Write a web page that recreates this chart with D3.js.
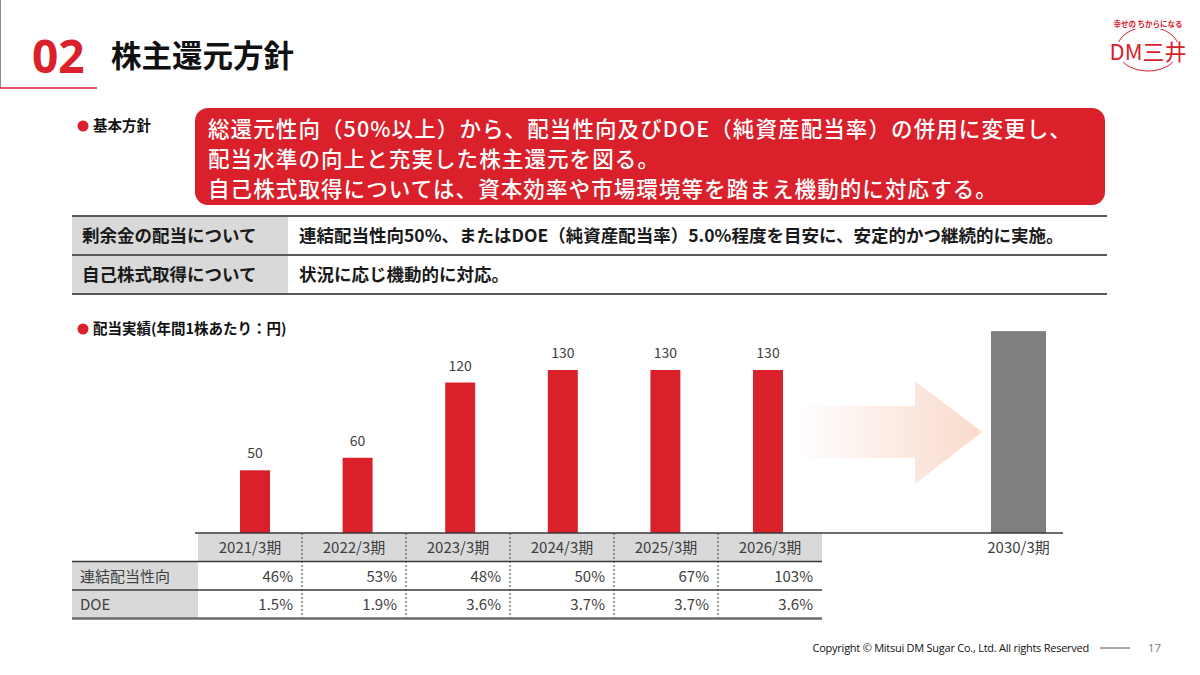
<!DOCTYPE html>
<html>
<head>
<meta charset="utf-8">
<script src="https://cdn.jsdelivr.net/npm/d3@7"></script>
<style>
  body { margin: 0; background: #fff; }
  svg { display: block; font-family: 'Noto Sans CJK JP', 'Noto Sans', sans-serif; }
</style>
</head>
<body>
<div id="slide"></div>
<script>
// data
const periods = ['2021/3期', '2022/3期', '2023/3期', '2024/3期', '2025/3期', '2026/3期']
const dividends = [50, 60, 120, 130, 130, 130]
const payoutRatio = [46, 53, 48, 50, 67, 103]
const doeValues = [1.5, 1.9, 3.6, 3.7, 3.7, 3.6]
const targetPeriod = '2030/3期'
const targetValue = 161 // unlabeled goal bar, height estimated
const rowLabels = ['連結配当性向', 'DOE']

const policyLines = [
  '総還元性向（50%以上）から、配当性向及びDOE（純資産配当率）の併用に変更し、',
  '配当水準の向上と充実した株主還元を図る。',
  '自己株式取得については、資本効率や市場環境等を踏まえ機動的に対応する。'
]
const policyRows = [
  ['剰余金の配当について', '連結配当性向50%、またはDOE（純資産配当率）5.0%程度を目安に、安定的かつ継続的に実施。'],
  ['自己株式取得について', '状況に応じ機動的に対応。']
]

const red = '#d9202b'
const dark = '#404040'
const cellGray = '#d9d9d9'

const width = 1200
const height = 675

const svg = d3.select('#slide')
  .append('svg')
  .attr('width', width)
  .attr('height', height)

const defs = svg.append('defs')
const grad = defs.append('linearGradient')
  .attr('id', 'arrowGrad')
  .attr('x1', '0%').attr('x2', '100%')
grad.append('stop').attr('offset', '0%').attr('stop-color', '#f7cbb8').attr('stop-opacity', 0)
grad.append('stop').attr('offset', '100%').attr('stop-color', '#f7cbb8').attr('stop-opacity', 0.72)

// ---- header ----
svg.append('line')
  .attr('x1', 0.5).attr('x2', 0.5).attr('y1', 0).attr('y2', 88)
  .attr('stroke', '#8c8c8c').attr('stroke-width', 1)

svg.append('text')
  .attr('x', 32).attr('y', 73)
  .attr('fill', red)
  .attr('font-family', "'Open Sans', 'Noto Sans', sans-serif")
  .attr('font-weight', 700)
  .attr('font-size', 46)
  .text('02')

svg.append('line')
  .attr('x1', 0).attr('x2', 97).attr('y1', 88).attr('y2', 88)
  .attr('stroke', red).attr('stroke-width', 1.5)

svg.append('text')
  .attr('x', 111).attr('y', 67)
  .attr('font-weight', 700)
  .attr('font-size', 30.5)
  .attr('fill', '#111')
  .text('株主還元方針')

// logo
const logo = svg.append('g').attr('transform', 'translate(1148, 49)')
logo.append('ellipse')
  .attr('rx', 31).attr('ry', 22)
  .attr('fill', 'none')
  .attr('stroke', red)
  .attr('stroke-width', 1)
logo.append('rect')
  .attr('x', -36).attr('y', -31).attr('width', 72).attr('height', 11).attr('fill', '#fff')
logo.append('rect')
  .attr('x', -36).attr('y', -7).attr('width', 72).attr('height', 20).attr('fill', '#fff')
logo.append('text')
  .attr('y', -22).attr('text-anchor', 'middle')
  .attr('font-size', 7.5).attr('font-weight', 700).attr('fill', red)
  .text('幸せの ちからになる')
logo.append('text')
  .attr('y', 11).attr('text-anchor', 'middle')
  .attr('font-size', 22).attr('font-weight', 400).attr('fill', red)
  .text('DM三井')

// ---- policy block ----
function bullet(y, label) {
  svg.append('circle').attr('cx', 83).attr('cy', y - 5).attr('r', 5.5).attr('fill', red)
  svg.append('text')
    .attr('x', 93).attr('y', y)
    .attr('font-size', 14.5).attr('font-weight', 700).attr('fill', '#111')
    .text(label)
}
bullet(131, '基本方針')

svg.append('rect')
  .attr('x', 195).attr('y', 108)
  .attr('width', 910).attr('height', 97)
  .attr('rx', 13)
  .attr('fill', red)

svg.append('g')
  .selectAll('text')
  .data(policyLines)
  .join('text')
  .attr('x', 208)
  .attr('y', (d, i) => 137 + i * 30)
  .attr('fill', '#fff')
  .attr('font-size', 21.5)
  .attr('font-weight', 500)
  .attr('letter-spacing', 1.1)
  .text((d) => d)

const pTop = 216
const pRowH = 39
const policy = svg.append('g')
policy.selectAll('rect')
  .data(policyRows)
  .join('rect')
  .attr('x', 72).attr('y', (d, i) => pTop + i * pRowH)
  .attr('width', 216).attr('height', pRowH)
  .attr('fill', cellGray)
policy.selectAll('line')
  .data(d3.range(policyRows.length + 1))
  .join('line')
  .attr('x1', 72).attr('x2', 1107)
  .attr('y1', (d) => pTop + d * pRowH).attr('y2', (d) => pTop + d * pRowH)
  .attr('stroke', '#595959').attr('stroke-width', 2)
policy.selectAll('.plabel')
  .data(policyRows)
  .join('text')
  .attr('class', 'plabel')
  .attr('x', 82).attr('y', (d, i) => pTop + i * pRowH + 26)
  .attr('font-size', 17.5).attr('font-weight', 700).attr('fill', '#1a1a1a')
  .text((d) => d[0])
policy.selectAll('.ptext')
  .data(policyRows)
  .join('text')
  .attr('class', 'ptext')
  .attr('x', 299).attr('y', (d, i) => pTop + i * pRowH + 26)
  .attr('font-size', 17.5).attr('font-weight', 700).attr('fill', '#1a1a1a')
  .text((d) => d[1])

// ---- dividend chart ----
bullet(334, '配当実績(年間1株あたり：円)')

const baseY = 533
// bars sit a little off the table column centres on the slide
const xScale = d3.scaleBand()
  .domain(periods)
  .range([203.7, 819.3])
  .paddingInner(0.708)
  .paddingOuter(0.354)
const colScale = d3.scaleBand().domain(periods).range([198, 822])
const xTarget = d3.scaleBand().domain([targetPeriod]).range([991, 1046])
const yScale = d3.scaleLinear().domain([0, 130]).range([baseY, 370])

const chart = svg.append('g')

// growth arrow
const arrow = d3.path()
arrow.moveTo(795, 406)
arrow.lineTo(915, 406)
arrow.lineTo(915, 381)
arrow.lineTo(982, 432)
arrow.lineTo(915, 484)
arrow.lineTo(915, 458)
arrow.lineTo(795, 458)
arrow.closePath()
chart.append('path').attr('d', arrow.toString()).attr('fill', 'url(#arrowGrad)')

chart.selectAll('.bar')
  .data(periods)
  .join('rect')
  .attr('class', 'bar')
  .attr('x', (d) => xScale(d))
  .attr('y', (d, i) => yScale(dividends[i]))
  .attr('width', xScale.bandwidth())
  .attr('height', (d, i) => baseY - yScale(dividends[i]))
  .attr('fill', red)

chart.selectAll('.val')
  .data(periods)
  .join('text')
  .attr('class', 'val')
  .attr('x', (d) => xScale(d) + xScale.bandwidth() / 2)
  .attr('y', (d, i) => yScale(dividends[i]) - 12)
  .attr('text-anchor', 'middle')
  .attr('font-size', 14).attr('fill', dark)
  .text((d, i) => dividends[i])

chart.append('rect')
  .attr('x', xTarget(targetPeriod))
  .attr('y', yScale(targetValue))
  .attr('width', xTarget.bandwidth())
  .attr('height', baseY - yScale(targetValue))
  .attr('fill', '#7f7f7f')

chart.append('text')
  .attr('x', xTarget(targetPeriod) + xTarget.bandwidth() / 2)
  .attr('y', 553)
  .attr('text-anchor', 'middle')
  .attr('font-size', 15).attr('fill', dark)
  .text(targetPeriod)

// ---- data table under the bars ----
const rowH = 28.5
const table = svg.append('g')
table.selectAll('.hdr')
  .data(periods)
  .join('rect')
  .attr('class', 'hdr')
  .attr('x', (d) => colScale(d)).attr('y', baseY)
  .attr('width', colScale.bandwidth()).attr('height', rowH)
  .attr('fill', cellGray)
table.selectAll('.lblcell')
  .data(rowLabels)
  .join('rect')
  .attr('class', 'lblcell')
  .attr('x', 72).attr('y', (d, i) => baseY + rowH * (i + 1))
  .attr('width', 126).attr('height', rowH)
  .attr('fill', cellGray)

table.selectAll('.hdrtext')
  .data(periods)
  .join('text')
  .attr('class', 'hdrtext')
  .attr('x', (d) => colScale(d) + colScale.bandwidth() / 2)
  .attr('y', baseY + 20)
  .attr('text-anchor', 'middle')
  .attr('font-size', 15).attr('fill', dark)
  .text((d) => d)

table.selectAll('.rowlbl')
  .data(rowLabels)
  .join('text')
  .attr('class', 'rowlbl')
  .attr('x', 80).attr('y', (d, i) => baseY + rowH * (i + 1) + 20)
  .attr('font-size', 15).attr('fill', dark)
  .text((d) => d)

const rows = [
  payoutRatio.map((v) => v + '%'),
  doeValues.map((v) => d3.format('.1f')(v) + '%')
]
rows.forEach((cells, r) => {
  table.append('g')
    .selectAll('text')
    .data(periods)
    .join('text')
    .attr('x', (d) => colScale(d) + colScale.bandwidth() - 9)
    .attr('y', baseY + rowH * (r + 1) + 20)
    .attr('text-anchor', 'end')
    .attr('font-size', 15).attr('fill', dark)
    .text((d, i) => cells[i])
})

// dashed column separators
table.selectAll('.sep')
  .data(periods.slice(1))
  .join('line')
  .attr('class', 'sep')
  .attr('x1', (d) => colScale(d)).attr('x2', (d) => colScale(d))
  .attr('y1', baseY).attr('y2', baseY + rowH * 3)
  .attr('stroke', dark).attr('stroke-width', 1)
  .attr('stroke-dasharray', '2,2')

// horizontal rules
table.selectAll('.rule')
  .data([1, 2, 3])
  .join('line')
  .attr('class', 'rule')
  .attr('x1', 72).attr('x2', 822)
  .attr('y1', (d) => baseY + rowH * d).attr('y2', (d) => baseY + rowH * d)
  .attr('stroke', (d) => (d === 3 ? '#6b6b6b' : '#3a3a3a'))
  .attr('stroke-width', (d) => (d === 3 ? 2.5 : 1.5))

// baseline
svg.append('line')
  .attr('x1', 195).attr('x2', 1063)
  .attr('y1', baseY).attr('y2', baseY)
  .attr('stroke', '#3a3a3a').attr('stroke-width', 1.5)

// ---- footer ----
svg.append('text')
  .attr('x', 1089).attr('y', 652)
  .attr('text-anchor', 'end')
  .attr('font-family', "'Open Sans', 'Liberation Sans', sans-serif")
  .attr('font-size', 11)
  .attr('letter-spacing', -0.25)
  .attr('fill', '#111')
  .text('Copyright © Mitsui DM Sugar Co., Ltd. All rights Reserved')
svg.append('line')
  .attr('x1', 1100).attr('x2', 1130).attr('y1', 648).attr('y2', 648)
  .attr('stroke', '#555').attr('stroke-width', 1)
svg.append('text')
  .attr('x', 1148).attr('y', 652)
  .attr('font-family', "'Open Sans', sans-serif")
  .attr('font-size', 11.5).attr('fill', '#777')
  .text('17')
</script>
</body>
</html>
